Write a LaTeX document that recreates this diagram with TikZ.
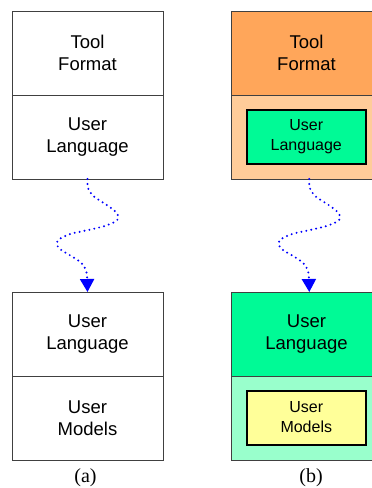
\documentclass[tikz,border=0pt]{standalone}
\usepackage{fontspec}
\setmainfont{Liberation Sans}
\newfontfamily\capfont{Liberation Serif}
\usetikzlibrary{arrows.meta,calc}
\definecolor{borderc}{HTML}{404040}
\definecolor{orangec}{HTML}{FFA65A}
\definecolor{peachc}{HTML}{FFCC99}
\definecolor{greenc}{HTML}{00FA96}
\definecolor{lgreenc}{HTML}{99FFCC}
\definecolor{yellowc}{HTML}{FFFF99}
\definecolor{arrowc}{HTML}{0000FF}
\begin{document}
\begin{tikzpicture}[x=1pt,y=-1pt,
  cell/.style={draw=borderc, line width=1pt, rectangle, inner sep=0pt, outer sep=0pt,
    minimum width=151pt, minimum height=84pt, align=center,
    font=\fontsize{18.5}{21.5}\selectfont},
  inbox/.style={draw=black, line width=2pt, rectangle, inner sep=0pt, outer sep=0pt,
    minimum width=119pt, minimum height=54pt, align=center,
    font=\fontsize{16}{20}\selectfont},
  conn/.style={draw=arrowc, line width=2.2pt, line cap=round, dash pattern=on 0pt off 5pt,
    -{Triangle[length=13pt,width=14pt]}},
  caption/.style={font=\capfont\fontsize{20}{22}\selectfont, inner sep=0pt}
]
\useasboundingbox (0,0) rectangle (372,488);
\clip (0,0) rectangle (372,488);
% (a)
\node[cell] (a1) at (87.5,53) {Tool\\Format};
\node[cell] (a2) at (87.5,137) {User\\Language};
\node[cell] (a3) at (87.5,334) {User\\Language};
\node[cell] (a4) at (87.5,418) {User\\Models};
% (b)
\node[cell, fill=orangec] (b1) at (306.5,53) {Tool\\Format};
\node[cell, fill=peachc] (b2) at (306.5,137) {};
\node[inbox, fill=greenc] (b2i) at (306.3,137) {User\\Language};
\node[cell, fill=greenc] (b3) at (306.5,334) {User\\Language};
\node[cell, fill=lgreenc] (b4) at (306.5,418) {};
\node[inbox, fill=yellowc] (b4i) at (306.3,417.5) {User\\Models};
% captions
\node[caption] (ca) at (85.5,478) {(a)};
\node[caption] (cb) at (311,478) {(b)};
% connectors
\draw[conn] (a2.south) -- plot[smooth,tension=0.55] coordinates {(87.5,187) (93.3,196) (107.3,205.3) (116,212.3) (118.3,217.7) (115,221.7) (104.7,226) (88.3,230) (71.3,233.7) (60.7,238.3) (56.7,243) (60.3,249.3) (75,258.3) (83.3,265) (87,274)} -- (a3.north);
\coordinate (bs) at ($(b2.south)+(2.8,0)$);
\coordinate (be) at ($(b3.north)+(2.8,0)$);
\draw[conn] (bs) -- plot[smooth,tension=0.55] coordinates {(309.3,187) (315.1,196) (329.1,205.3) (337.8,212.3) (340.1,217.7) (336.8,221.7) (326.5,226) (310.1,230) (293.1,233.7) (282.5,238.3) (278.5,243) (282.1,249.3) (296.8,258.3) (305.1,265) (308.8,274)} -- (be);
\end{tikzpicture}
\end{document}
